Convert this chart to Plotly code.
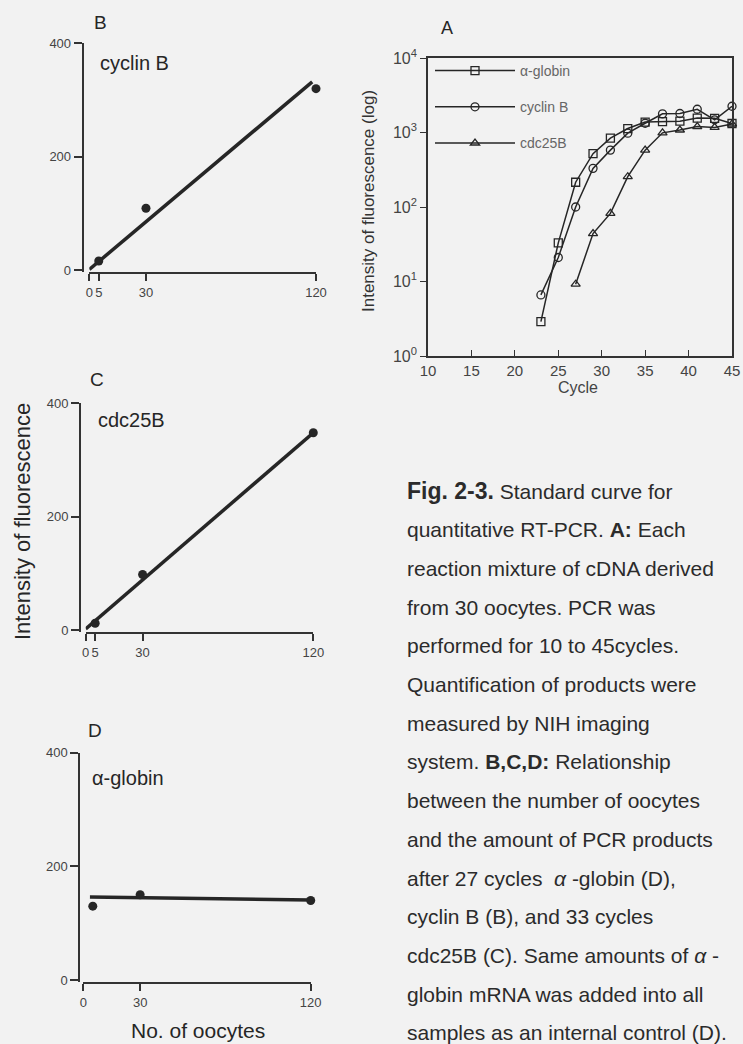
import plotly.graph_objects as go

W, H = 743, 1044

# ---------------- Panel A data (log scale, cycle vs fluorescence) ----------------
cycles_ab = [23, 25, 27, 29, 31, 33, 35, 37, 39, 41, 43, 45]
alpha_globin_A = [2.9, 33, 215, 520, 840, 1130, 1380, 1400, 1420, 1560, 1550, 1320]
cyclin_b_A = [6.6, 21, 100, 330, 580, 980, 1330, 1780, 1800, 2050, 1480, 2250]
cycles_cdc = [27, 29, 31, 33, 35, 37, 39, 41, 43, 45]
cdc25b_A = [9.2, 44, 82, 255, 580, 990, 1080, 1200, 1170, 1300]
a_xticks = [10, 15, 20, 25, 30, 35, 40, 45]
a_yticks = [1, 10, 100, 1000, 10000]
a_yticktext = ["10<sup>0</sup>", "10<sup>1</sup>", "10<sup>2</sup>", "10<sup>3</sup>", "10<sup>4</sup>"]

# ---------------- Panels B, C, D (No. of oocytes vs intensity) ----------------
oocytes = [5, 30, 120]
cyclin_b_B = [16, 109, 320]
cdc25b_C = [12, 98, 348]
alpha_globin_D = [130, 150, 140]
fit_x_B = [0, 118]
fit_y_B = [1, 332]
fit_x_C = [0, 120]
fit_y_C = [2, 348]
fit_x_D = [3.5, 120]
fit_y_D = [146, 141]
bc_xticks = [0, 5, 30, 120]
d_xticks = [0, 30, 120]
lin_yticks = [0, 200, 400]

caption_lines = [
    "<b><span style='font-size:23px'>Fig. 2-3.</span></b> Standard curve for",
    "quantitative RT-PCR. <b>A:</b> Each",
    "reaction mixture of cDNA derived",
    "from 30 oocytes. PCR was",
    "performed for 10 to 45cycles.",
    "Quantification of products were",
    "measured by NIH imaging",
    "system. <b>B,C,D:</b> Relationship",
    "between the number of oocytes",
    "and the amount of PCR products",
    "after 27 cycles  <i>α</i> -globin (D),",
    "cyclin B (B), and 33 cycles",
    "cdc25B (C). Same amounts of <i>α</i> -",
    "globin mRNA was added into all",
    "samples as an internal control (D).",
]

FONT = "Liberation Sans, Arial, sans-serif"
BG = "#f2f2f2"
INK = "#262626"


def px(x):
    return x / W


def py(y):
    return 1 - y / H


fig = go.Figure()

# Panel A traces
for xs, ys, name, sym, grp in [
    (cycles_ab, alpha_globin_A, "α-globin", "square-open", "g1"),
    (cycles_ab, cyclin_b_A, "cyclin B", "circle-open", "g2"),
    (cycles_cdc, cdc25b_A, "cdc25B", "triangle-up-open", "g3"),
]:
    fig.add_trace(go.Scatter(
        x=xs, y=ys, name=name, mode="lines+markers", legendgroup=grp,
        line=dict(color=INK, width=1.5), cliponaxis=False,
        marker=dict(symbol=sym, size=8, color=INK, line=dict(width=1.3)),
        xaxis="x", yaxis="y"))

# Panels B, C, D
for xs, ys, fx, fy, ax in [
    (oocytes, cyclin_b_B, fit_x_B, fit_y_B, "2"),
    (oocytes, cdc25b_C, fit_x_C, fit_y_C, "3"),
    (oocytes, alpha_globin_D, fit_x_D, fit_y_D, "4"),
]:
    fig.add_trace(go.Scatter(x=fx, y=fy, mode="lines", showlegend=False,
                             line=dict(color=INK, width=3.5), cliponaxis=False,
                             xaxis="x" + ax, yaxis="y" + ax))
    fig.add_trace(go.Scatter(x=xs, y=ys, mode="markers", showlegend=False,
                             marker=dict(color=INK, size=9), cliponaxis=False,
                             xaxis="x" + ax, yaxis="y" + ax))

tickfont_small = dict(family=FONT, size=13, color="#444")

layout = dict(
    width=W, height=H,
    margin=dict(l=0, r=0, t=0, b=0, autoexpand=False),
    paper_bgcolor=BG, plot_bgcolor=BG,
    font=dict(family=FONT, color=INK),
    showlegend=True,
    legend=dict(x=px(430), y=py(55), xanchor="left", yanchor="top",
                bgcolor="rgba(0,0,0,0)", font=dict(size=14, color="#666"),
                itemwidth=80, tracegroupgap=15, traceorder="grouped"),
    xaxis=dict(domain=[px(428), px(732)], range=[10, 45], anchor="y",
               showline=True, linecolor="#333", linewidth=1.6, mirror=True,
               ticks="inside", ticklen=6, tickwidth=1.4, tickcolor="#333",
               tickvals=a_xticks, showgrid=False, zeroline=False, tickangle=0,
               tickfont=dict(family=FONT, size=15, color="#444")),
    yaxis=dict(domain=[py(356), py(58)], type="log", range=[0, 4], anchor="x",
               showline=True, linecolor="#333", linewidth=1.6, mirror=True,
               ticks="outside", ticklen=6, tickwidth=1.4, tickcolor="#333",
               tickvals=a_yticks, ticktext=a_yticktext, showgrid=False,
               zeroline=False, tickfont=dict(family=FONT, size=16, color="#444")),
)

panel_geom = {
    "2": dict(x0=89.3, x1=316, ytop=43.3, ybot=272.3, yax=82.7, xt=bc_xticks),
    "3": dict(x0=85.7, x1=313.3, ytop=403.3, ybot=632.3, yax=80, xt=bc_xticks),
    "4": dict(x0=83.3, x1=310.7, ytop=752.7, ybot=982.3, yax=79.3, xt=d_xticks),
}
for k, g in panel_geom.items():
    layout["xaxis" + k] = dict(
        domain=[px(g["x0"]), px(g["x1"])], range=[0, 120], anchor="y" + k,
        showline=True, linecolor="#333", linewidth=2, ticks="outside",
        ticklen=7, tickwidth=2, tickcolor="#333", tickvals=g["xt"],
        showgrid=False, zeroline=False, tickangle=0, tickfont=tickfont_small)
    layout["yaxis" + k] = dict(
        domain=[py(g["ybot"]), py(g["ytop"])], range=[-4, 400], anchor="free",
        position=px(g["yax"]), showline=True, linecolor="#333", linewidth=2,
        ticks="outside", ticklen=8, tickwidth=2, tickcolor="#333",
        tickvals=lin_yticks, showgrid=False, zeroline=False,
        tickfont=tickfont_small)

fig.update_layout(**layout)

ann = []


def label(text, x, y, size, xanchor="center", color=INK, angle=0, yanchor="middle"):
    ann.append(dict(text=text, x=px(x), y=py(y), xref="paper", yref="paper",
                    xanchor=xanchor, yanchor=yanchor, showarrow=False,
                    textangle=angle, font=dict(family=FONT, size=size, color=color)))


label("A", 447, 28, 18)
label("B", 100, 23, 19)
label("C", 97, 380, 19)
label("D", 95, 730, 19)
label("cyclin B", 98, 63, 20, xanchor="left")
label("cdc25B", 96, 420, 20, xanchor="left")
label("α-globin", 90, 778, 20, xanchor="left")
label("Intensity of fluorescence (log)", 369, 201, 17, angle=-90, color="#333")
label("Cycle", 578, 387, 16, color="#444")
label("Intensity of fluorescence", 22, 522, 22, angle=-90)
label("No. of oocytes", 198, 1030, 21)

y0, dy = 491, 38.7
for i, line in enumerate(caption_lines):
    label(line, 405, y0 + i * dy, 21, xanchor="left", color="#2b2b2b")

fig.update_layout(annotations=ann)
fig.write_html("out.html")
